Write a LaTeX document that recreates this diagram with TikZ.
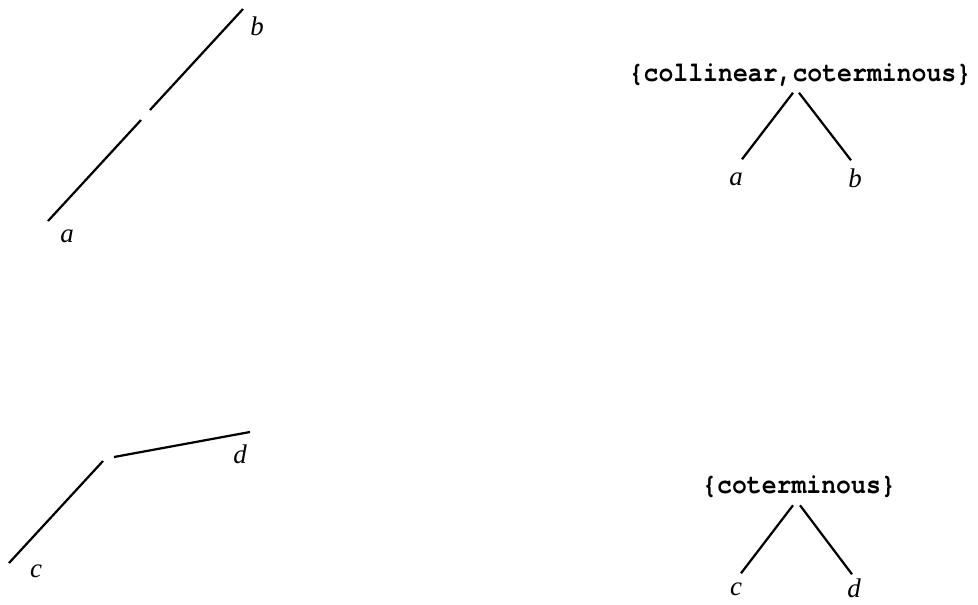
\documentclass[tikz,border=0pt]{standalone}
\usepackage{fontspec}
\setmainfont{Liberation Serif}
\setmonofont{TeX Gyre Cursor}[FakeStretch=0.89]
\tikzset{
  seg/.style={line width=1.9pt},
  lbl/.style={font=\fontsize{23}{27}\selectfont\itshape, inner sep=0pt},
  tag/.style={font=\fontsize{23.8}{28}\selectfont\ttfamily\bfseries, inner sep=0pt},
}

\begin{document}
\begin{tikzpicture}[x=0.03cm,y=-0.03cm]
\useasboundingbox (0,0) rectangle (978,604);
% Top left: collinear and coterminous segments
\coordinate (a0) at (48,221);
\coordinate (a1) at (141,120);
\coordinate (b0) at (150,110);
\coordinate (b1) at (243,9);
\draw[seg] (a0) -- (a1);
\draw[seg] (b0) -- (b1);
\node[lbl] (la) at (67,236) {a};
\node[lbl] (lb) at (257,26) {b};

% Bottom left: coterminous segments
\coordinate (c0) at (9,563);
\coordinate (c1) at (103,461);
\coordinate (d0) at (114,457);
\coordinate (d1) at (250,432);
\draw[seg] (c0) -- (c1);
\draw[seg] (d0) -- (d1);
\node[lbl] (lc) at (36,571) {c};
\node[lbl] (ld) at (240,454) {d};

% Top right tree
\node[tag] (rab) at (800,75) {\{collinear,coterminous\}};
\node[lbl] (ta) at (736,179) {a};
\node[lbl] (tb) at (855,178) {b};
\draw[seg] ([shift={(-7,6)}]rab.south) -- ([shift={(6,-13)}]ta.north);
\draw[seg] ([shift={(-1,6)}]rab.south) -- ([shift={(-4,-8)}]tb.north);

% Bottom right tree
\node[tag] (rcd) at (799,487) {\{coterminous\}};
\node[lbl] (tc) at (736,589) {c};
\node[lbl] (td) at (854,588) {d};
\draw[seg] ([shift={(-6,7)}]rcd.south) -- ([shift={(5,-9)}]tc.north);
\draw[seg] ([shift={(1,7)}]rcd.south) -- ([shift={(-2,-4)}]td.north);
\end{tikzpicture}
\end{document}
